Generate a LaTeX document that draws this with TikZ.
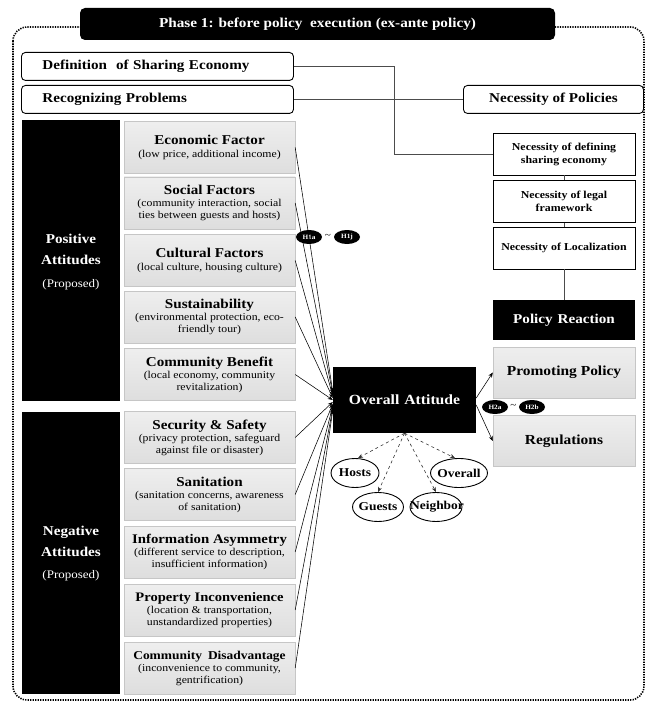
\documentclass[tikz,border=0pt]{standalone}
\usepackage{fontspec}
\setmainfont[FakeStretch=1.12]{Liberation Serif}
\usetikzlibrary{arrows.meta,shapes.geometric}
\newcommand\facttl[2][13.5]{{\fontsize{#1}{16}\selectfont\bfseries #2}}
\newcommand\facsub[1]{{\fontsize{10.5}{13}\selectfont #1}}
\begin{document}
\begin{tikzpicture}[x=1pt,y=-1pt,
 frame/.style={draw, line width=1.6pt, dash pattern=on 1.3pt off 1.2pt, rounded corners=14pt},
 topbox/.style={draw, line width=0.9pt, rounded corners=4pt, fill=white, minimum height=28pt, inner ysep=0pt, font=\fontsize{13.5}{16}\selectfont\bfseries},
 blk/.style={fill=black, text=white, inner sep=0pt, align=center},
 fac/.style={draw=gray!45, top color=gray!13, bottom color=gray!26, minimum width=171pt, minimum height=52pt, inner sep=0pt, align=center},
 nec/.style={draw, line width=0.9pt, fill=white, minimum width=142pt, minimum height=42pt, align=center, inner sep=0pt, font=\fontsize{10.6}{13}\selectfont\bfseries},
 pol/.style={draw=gray!45, top color=gray!13, bottom color=gray!26, minimum width=142pt, minimum height=51pt, inner sep=0pt, font=\fontsize{13.8}{17}\selectfont\bfseries},
 hyp/.style={ellipse, fill=black, text=white, minimum width=26pt, minimum height=14pt, inner sep=0pt, font=\fontsize{6.5}{7}\selectfont\bfseries},
 grp/.style={ellipse, draw, line width=0.9pt, minimum height=29pt, inner sep=0pt},
 grpt/.style={inner sep=0pt, font=\fontsize{12}{12}\selectfont\bfseries},
 link/.style={draw=gray!60!black, line width=0.7pt},
 arr/.style={draw=black, line width=0.55pt, -{Stealth[length=5pt,width=4pt]}},
 darr/.style={draw=gray!40!black, line width=0.6pt, dashed, -{Stealth[length=5pt,width=4pt]}},
 attl/.style={text=white, align=center, font=\fontsize{13.5}{21}\selectfont\bfseries},
 prop/.style={text=white, font=\fontsize{11.6}{14}\selectfont},
]
\useasboundingbox (0,0) rectangle (648,703);
% outer dotted frame
\draw[frame] (13,27) rectangle (644,700);
% phase title
\node[blk, rounded corners=5pt, minimum width=475pt, minimum height=32pt, font=\fontsize{13.6}{16}\selectfont\bfseries] (phase) at (317.5,24) {Phase 1: before policy\ \ execution (ex-ante policy)};

% top boxes
\node[topbox, anchor=north west, minimum width=272pt, text width=230pt, inner xsep=21pt, align=left] (def) at (21,52) {Definition\ \ of Sharing Economy};
\node[topbox, anchor=north west, minimum width=272pt, text width=230pt, inner xsep=21pt, align=left] (rp) at (21,85) {Recognizing Problems};
\node[topbox, anchor=north west, minimum width=180pt, inner xsep=0pt] (np) at (463,85) {Necessity of Policies};

% necessity chain
\node[nec] (nd) at (564,154) {Necessity of defining\\sharing economy};
\node[nec] (lf) at (564,201.5) {Necessity of legal\\framework};
\node[nec] (loc) at (564,248) {Necessity of Localization};
\node[blk, minimum width=142pt, minimum height=40pt, font=\fontsize{13.5}{16}\selectfont\bfseries] (pr) at (564,320) {Policy\hspace{5pt}Reaction};
\node[pol] (pp) at (564,372.5) {Promoting Policy};
\node[pol] (reg) at (564,441) {Regulations};

\coordinate (bx) at (394,0);
\draw[link] (def.east) -- (def.east -| bx) |- (nd.west);
\draw[link] (rp.east) -- (np.west);
\draw[link] (nd.south) -- (lf.north);
\draw[link] (lf.south) -- (loc.north);
\draw[link] (loc.south) -- (pr.north);

% left black columns
\node[blk, minimum width=98pt, minimum height=281pt] (pos) at (71,260.5) {};
\node[attl] (posl) at (71,249) {Positive\\Attitudes};
\node[prop] (posp) at (71,285) {(Proposed)};
\node[blk, minimum width=98pt, minimum height=282pt] (neg) at (71,553) {};
\node[attl] (negl) at (71,541.5) {Negative\\Attitudes};
\node[prop] (negp) at (71,576) {(Proposed)};

% factor boxes
\node[fac] (f1) at (209.5,147.5) {\facttl{Economic Factor}\\[1pt]\facsub{(low price, additional income)}};
\node[fac] (f2) at (209.5,203) {\facttl{Social Factors}\\\facsub{(community interaction, social}\\\facsub{ties between guests and hosts)}};
\node[fac] (f3) at (209.5,260.5) {\facttl{Cultural Factors}\\[1pt]\facsub{(local culture, housing culture)}};
\node[fac] (f4) at (209.5,317) {\facttl{Sustainability}\\\facsub{(environmental protection, eco-}\\\facsub{friendly tour)}};
\node[fac] (f5) at (209.5,374.5) {\facttl{Community Benefit}\\\facsub{(local economy, community}\\\facsub{revitalization)}};
\node[fac] (f6) at (209.5,437.5) {\facttl{Security \& Safety}\\\facsub{(privacy protection, safeguard}\\\facsub{against file or disaster)}};
\node[fac] (f7) at (209.5,494.5) {\facttl{Sanitation}\\\facsub{(sanitation concerns, awareness}\\\facsub{of sanitation)}};
\node[fac] (f8) at (209.5,552) {\facttl[13.2]{Information Asymmetry}\\\facsub{(different service to description,}\\\facsub{insufficient information)}};
\node[fac] (f9) at (209.5,610) {\facttl[13]{Property Inconvenience}\\\facsub{(location \& transportation,}\\\facsub{unstandardized properties)}};
\node[fac] (f10) at (209.5,668) {\facttl[12]{Community\hspace{6pt}Disadvantage}\\\facsub{(inconvenience to community,}\\\facsub{gentrification)}};

% overall attitude
\node[blk, minimum width=143pt, minimum height=66pt, font=\fontsize{14}{17}\selectfont\bfseries] (oa) at (404.5,400) {Overall\hspace{5pt}Attitude};

% hypothesis labels
\node[hyp] (h1a) at (309,237) {H1a};
\node[hyp] (h1j) at (347,237) {H1j};
\node[inner sep=0pt, font=\fontsize{10}{10}\selectfont] (t1) at (328,236) {\textasciitilde};
\node[hyp] (h2a) at (495,407) {H2a};
\node[hyp] (h2b) at (532,407) {H2b};
\node[inner sep=0pt, font=\fontsize{10}{10}\selectfont] (t2) at (513.5,406) {\textasciitilde};

% factor arrows
\draw[arr] (f1.east) -- ([yshift=8pt]oa.west);
\draw[arr] (f2.east) -- ([yshift=6pt]oa.west);
\draw[arr] (f3.east) -- ([yshift=4pt]oa.west);
\draw[arr] (f4.east) -- ([yshift=2pt]oa.west);
\draw[arr] (f5.east) -- ([yshift=0pt]oa.west);
\draw[arr] (f6.east) -- ([yshift=-2pt]oa.west);
\draw[arr] (f7.east) -- ([yshift=-4pt]oa.west);
\draw[arr] (f8.east) -- ([yshift=-6pt]oa.west);
\draw[arr] (f9.east) -- ([yshift=-8pt]oa.west);
\draw[arr] (f10.east) -- ([yshift=-10pt]oa.west);

% policy arrows
\draw[arr] ([yshift=2pt]oa.east) -- (pp.west);
\draw[arr] ([yshift=-5pt]oa.east) -- (reg.west);

% groups
\node[grp, minimum width=48pt] (hosts) at (355,473) {};
\node[grpt] (hostst) at (hosts) {Hosts};
\node[grp, minimum width=57pt] (ovr) at (459,473) {};
\node[grpt] (ovrt) at (ovr) {Overall};
\node[grp, minimum width=51pt] (guests) at (378,507) {};
\node[grpt] (guestst) at (guests) {Guests};
\node[grp, minimum width=52pt] (nb) at (436,507) {};
\node[grpt] (nbt) at ([xshift=1pt]nb) {Neighbor};
\draw[darr] (oa.south) -- ([xshift=3pt]hosts.north);
\draw[darr] (oa.south) -- (guests.north);
\draw[darr] (oa.south) -- (nb.north);
\draw[darr] (oa.south) -- ([xshift=-4pt]ovr.north);
\end{tikzpicture}
\end{document}
